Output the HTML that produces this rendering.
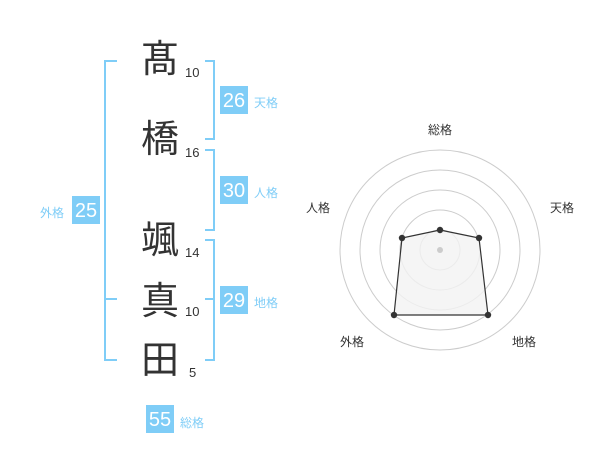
<!DOCTYPE html>
<html><head><meta charset="utf-8"><style>
body{margin:0;width:600px;height:470px;background:#fff;position:relative;overflow:hidden;font-family:"Liberation Sans","Noto Sans CJK JP",sans-serif}
.a{position:absolute}
.k{position:absolute;font-size:38px;line-height:38px;color:#333;width:40px;text-align:center;left:140px}
.n{position:absolute;font-size:13px;color:#333;line-height:14px}
.b{position:absolute;background:#7fcdf7;color:#fff;font-size:20px;line-height:30px;height:28px;width:28px;text-align:center;overflow:hidden}
.l{position:absolute;color:#7fcdf7;font-size:12px;line-height:14px}
.v{position:absolute;background:#7fcdf7}
</style></head><body>
<div class="k" style="top:41px">髙</div>
<div class="k" style="top:121px">橋</div>
<div class="k" style="top:222px">颯</div>
<div class="k" style="top:283px">真</div>
<div class="k" style="top:342px">田</div>
<div class="n" style="left:185px;top:66px">10</div>
<div class="n" style="left:185px;top:146px">16</div>
<div class="n" style="left:185px;top:246px">14</div>
<div class="n" style="left:185px;top:305px">10</div>
<div class="n" style="left:189px;top:366px">5</div>
<div class="v" style="left:104px;top:60px;width:2px;height:301px"></div>
<div class="v" style="left:104px;top:60px;width:13px;height:2px"></div>
<div class="v" style="left:104px;top:298px;width:13px;height:2px"></div>
<div class="v" style="left:104px;top:359px;width:13px;height:2px"></div>
<div class="v" style="left:213px;top:60px;width:2px;height:80px"></div>
<div class="v" style="left:205px;top:60px;width:10px;height:2px"></div>
<div class="v" style="left:205px;top:138px;width:10px;height:2px"></div>
<div class="v" style="left:213px;top:149px;width:2px;height:82px"></div>
<div class="v" style="left:205px;top:149px;width:10px;height:2px"></div>
<div class="v" style="left:205px;top:229px;width:10px;height:2px"></div>
<div class="v" style="left:213px;top:239px;width:2px;height:122px"></div>
<div class="v" style="left:205px;top:239px;width:10px;height:2px"></div>
<div class="v" style="left:205px;top:298px;width:10px;height:2px"></div>
<div class="v" style="left:205px;top:359px;width:10px;height:2px"></div>
<div class="b" style="left:220px;top:86px">26</div><div class="l" style="left:254px;top:96px">天格</div>
<div class="b" style="left:220px;top:176px">30</div><div class="l" style="left:254px;top:186px">人格</div>
<div class="b" style="left:220px;top:286px">29</div><div class="l" style="left:254px;top:296px">地格</div>
<div class="b" style="left:72px;top:196px">25</div><div class="l" style="left:40px;top:206px">外格</div>
<div class="b" style="left:146px;top:405px">55</div><div class="l" style="left:180px;top:416px">総格</div>
<svg class="a" style="left:0;top:0" width="600" height="470">
<g fill="none" stroke="#ccc" stroke-width="1">
<circle cx="440" cy="250" r="20"/><circle cx="440" cy="250" r="40"/><circle cx="440" cy="250" r="60"/><circle cx="440" cy="250" r="80"/><circle cx="440" cy="250" r="100"/>
</g>
<polygon points="440,230 479,238 488,315 394,315 402,238" fill="#f2f2f2" fill-opacity="0.8" stroke="#333" stroke-width="1.2"/>
<circle cx="440" cy="250" r="3" fill="#ccc"/>
<g fill="#333"><circle cx="440" cy="230" r="3.2"/><circle cx="479" cy="238" r="3.2"/><circle cx="488" cy="315" r="3.2"/><circle cx="394" cy="315" r="3.2"/><circle cx="402" cy="238" r="3.2"/></g>
<g font-size="12" fill="#333" font-family="Liberation Sans,Noto Sans CJK JP,sans-serif" text-anchor="middle">
<text x="440" y="134">総格</text><text x="562" y="212">天格</text><text x="524" y="346">地格</text><text x="352" y="346">外格</text><text x="318" y="212">人格</text>
</g>
</svg>
</body></html>
